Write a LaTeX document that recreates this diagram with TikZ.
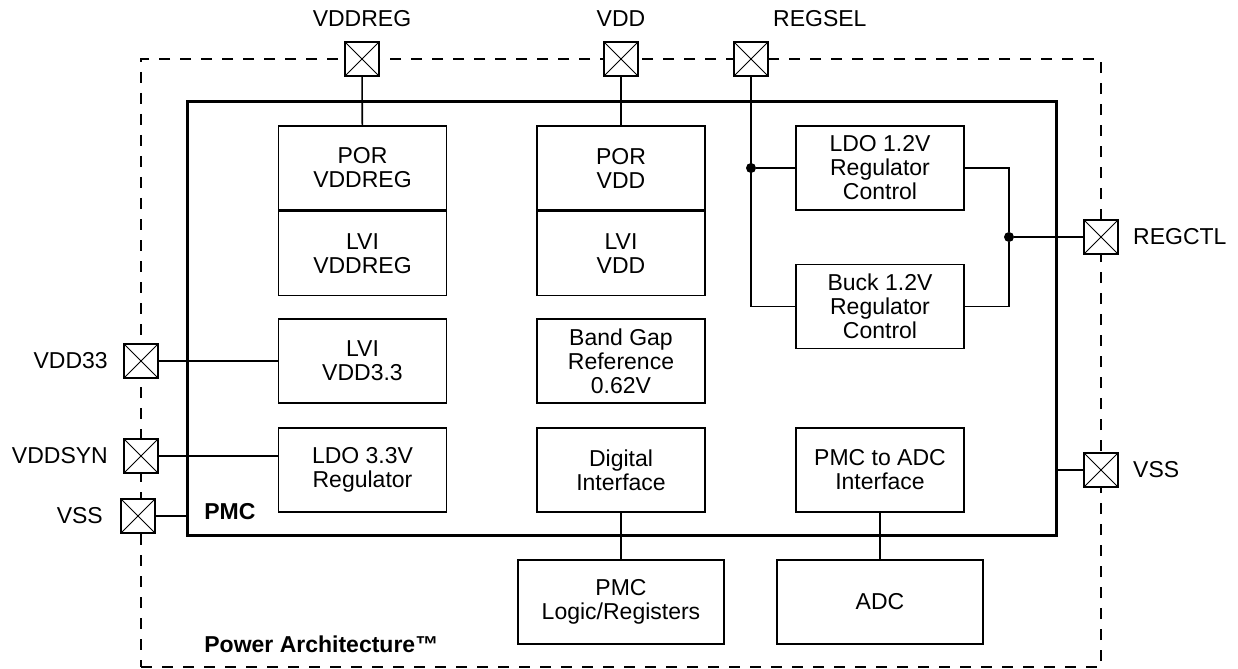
\documentclass[tikz,border=0pt]{standalone}
\usepackage{fontspec}
\setmainfont{Liberation Sans}
\usetikzlibrary{positioning}

\tikzset{
  blk/.style={draw, line width=0.8pt, minimum width=84pt, minimum height=42pt,
    align=center, inner sep=1pt, font=\fontsize{11.5}{12}\selectfont},
  wideblk/.style={blk, minimum width=103pt},
  pad/.style={draw, fill=white, line width=0.8pt, minimum size=17pt, inner sep=0pt,
    path picture={\draw[line width=0.4pt]
      (path picture bounding box.north west) -- (path picture bounding box.south east)
      (path picture bounding box.south west) -- (path picture bounding box.north east);}},
  padlabel/.style={inner sep=0pt, font=\fontsize{11.5}{12}\selectfont},
  wire/.style={line width=0.8pt},
  dot/.style={circle, fill, inner sep=0pt, minimum size=5pt},
}

\begin{document}
\begin{tikzpicture}[x=0.5pt, y=-0.5pt]
\useasboundingbox (0,0) rectangle (1238,669);

% outer chip boundary and PMC
\node[draw, dash pattern=on 5.5pt off 5pt, line width=0.9pt,
  minimum width=480pt, minimum height=304pt] (chip) at (621,363) {};
\node[draw, line width=1.5pt, minimum width=434.5pt, minimum height=217pt] (pmc) at (621.5,318) {};

% blocks
\node[blk] (porvddreg) at (362.5,168) {POR\\VDDREG};
\node[blk, below=0pt of porvddreg] (lvivddreg) {LVI\\VDDREG};
\node[blk] (porvdd) at (621,168) {POR\\VDD};
\node[blk, below=0pt of porvdd] (lvivdd) {LVI\\VDD};
\node[blk] (ldo12) at (880,168) {LDO 1.2V\\Regulator\\Control};
\node[blk] (buck) at (880,306.5) {Buck 1.2V\\Regulator\\Control};
\node[blk] (lvi33) at (362.5,361) {LVI\\VDD3.3};
\node[blk] (bandgap) at (621,361) {Band Gap\\Reference\\0.62V};
\node[blk] (ldo33) at (362.5,470) {LDO 3.3V\\Regulator};
\node[blk] (diginf) at (621,470) {Digital\\Interface};
\node[blk] (adcif) at (880,470) {PMC to ADC\\Interface};
\node[wideblk] (logic) at (621,602) {PMC\\Logic/Registers};
\node[wideblk] (adc) at (880,602) {ADC};

\node[padlabel, font=\fontsize{11.5}{12}\selectfont\bfseries, anchor=west] (pmcname) at (204,512) {PMC};
\node[padlabel, font=\fontsize{11.5}{12}\selectfont\bfseries, anchor=west] (chipname) at (204,644) {Power Architecture™};

% pads
\node[pad] (vddreg) at (362,59) {};
\node[pad] (vdd) at (621,59) {};
\node[pad] (regsel) at (751,59) {};
\node[pad] (regctl) at (1101,237) {};
\node[pad] (vssr) at (1101,470) {};
\node[pad] (vdd33) at (141,361) {};
\node[pad] (vddsyn) at (141,456) {};
\node[pad] (vssl) at (138,516) {};

\node[padlabel, above=7pt of vddreg] {VDDREG};
\node[padlabel, above=7pt of vdd] {VDD};
\node[padlabel, above right=7pt and 2pt of regsel] {REGSEL};
\node[padlabel, right=7pt of regctl] {REGCTL};
\node[padlabel, right=7pt of vssr] {VSS};
\node[padlabel, left=7.5pt of vdd33] {VDD33};
\node[padlabel, left=7.5pt of vddsyn] {VDDSYN};
\node[padlabel, left=8.5pt of vssl] {VSS};

% junctions
\node[dot] (jl) at (regsel |- ldo12.west) {};
\node[dot] (jr) at (1009,237) {};

% wires
\draw[wire] (vddreg) -- (porvddreg);
\draw[wire] (vdd) -- (porvdd);
\draw[wire] (regsel) |- (buck.west);
\draw[wire] (jl) -- (ldo12);
\draw[wire] (ldo12) -| (jr) |- (buck);
\draw[wire] (jr) -- (regctl);
\draw[wire] (vdd33) -- (lvi33);
\draw[wire] (vddsyn) -- (vddsyn -| ldo33.west);
\draw[wire] (vssl) -- (vssl -| pmc.west);
\draw[wire] (vssr) -- (vssr -| pmc.east);
\draw[wire] (diginf) -- (logic);
\draw[wire] (adcif) -- (adc);
\end{tikzpicture}
\end{document}
